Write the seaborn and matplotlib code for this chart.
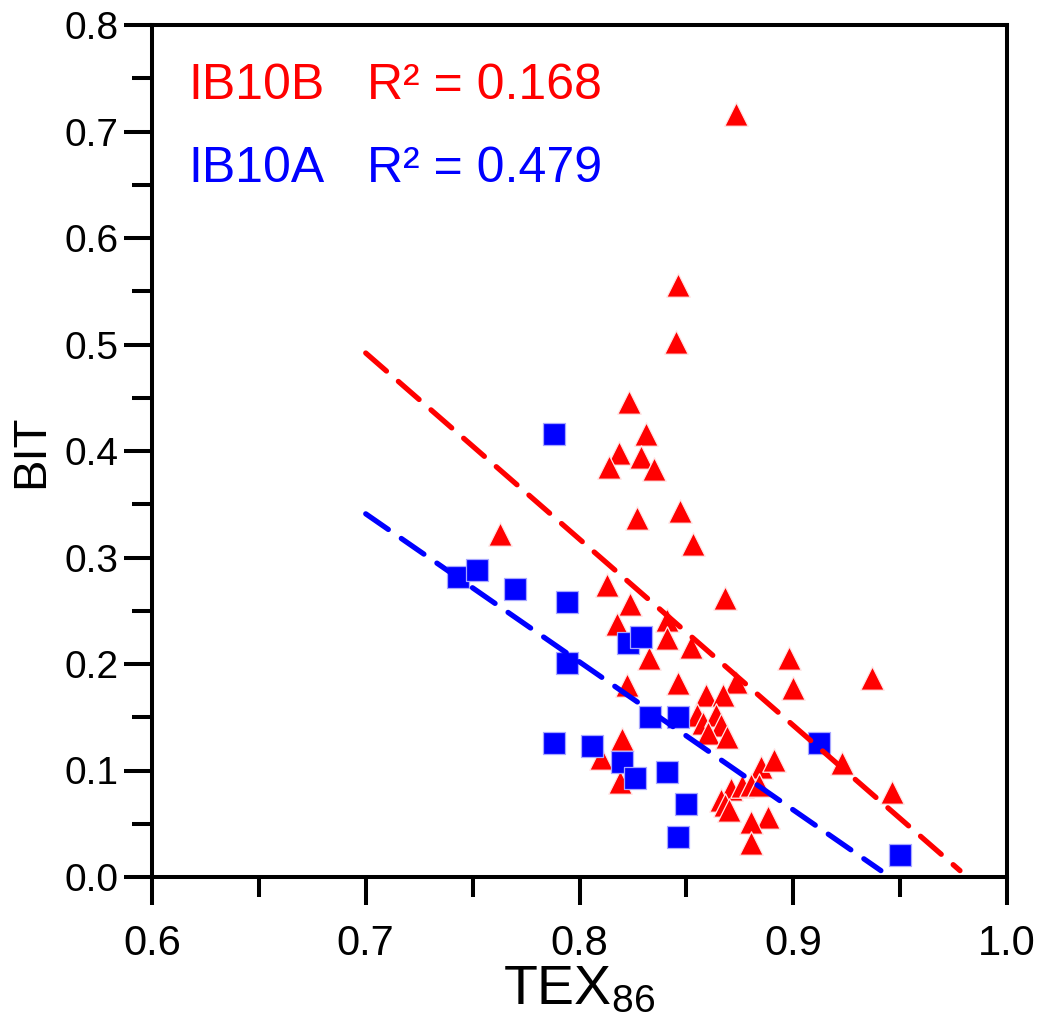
import numpy as np
import pandas as pd
import matplotlib
matplotlib.use("Agg")
import matplotlib.pyplot as plt
import seaborn as sns
from matplotlib import font_manager
from matplotlib.ticker import MultipleLocator, FixedLocator

# ---------------- data ----------------
ib10b_tex = [0.873, 0.846, 0.845, 0.823, 0.831, 0.8185, 0.829, 0.835, 0.814, 0.827,
             0.847, 0.853, 0.763, 0.813, 0.8236, 0.868, 0.8175, 0.841, 0.841, 0.8325,
             0.852, 0.846, 0.822, 0.873, 0.859, 0.867, 0.855, 0.858, 0.864, 0.866,
             0.860, 0.869, 0.820, 0.810, 0.819, 0.885, 0.891, 0.871, 0.876, 0.880,
             0.884, 0.866, 0.868, 0.870, 0.888, 0.880, 0.880, 0.898, 0.900, 0.937,
             0.923, 0.946]
ib10b_bit = [0.716, 0.556, 0.502, 0.446, 0.416, 0.398, 0.394, 0.383, 0.385, 0.337,
             0.344, 0.313, 0.322, 0.274, 0.256, 0.262, 0.238, 0.241, 0.224, 0.206,
             0.216, 0.182, 0.180, 0.183, 0.171, 0.171, 0.152, 0.145, 0.152, 0.143,
             0.135, 0.131, 0.130, 0.112, 0.089, 0.103, 0.110, 0.083, 0.085, 0.086,
             0.086, 0.072, 0.068, 0.063, 0.056, 0.052, 0.032, 0.206, 0.177, 0.187,
             0.107, 0.080]

ib10a_tex = [0.788, 0.743, 0.752, 0.770, 0.794, 0.794, 0.8227, 0.829, 0.833, 0.846,
             0.788, 0.806, 0.820, 0.826, 0.841, 0.850, 0.846, 0.912, 0.950]
ib10a_bit = [0.416, 0.282, 0.288, 0.270, 0.258, 0.201, 0.220, 0.225, 0.150, 0.150,
             0.126, 0.123, 0.108, 0.093, 0.099, 0.069, 0.038, 0.126, 0.021]

# regression line end points
fit_b_tex = [0.700, 0.978]
fit_b_bit = [0.492, 0.006]
fit_a_tex = [0.700, 0.941]
fit_a_bit = [0.341, 0.006]

labels = ["IB10B", "IB10A"]
r2_text = ["R\u00b2 = 0.168", "R\u00b2 = 0.479"]
x_ticks = [0.6, 0.7, 0.8, 0.9, 1.0]
x_ticklabels = ["0.6", "0.7", "0.8", "0.9", "1.0"]
y_ticks = [0.0, 0.1, 0.2, 0.3, 0.4, 0.5, 0.6, 0.7, 0.8]
y_ticklabels = ["0.0", "0.1", "0.2", "0.3", "0.4", "0.5", "0.6", "0.7", "0.8"]

RED = "#ff0000"
BLUE = "#0000ff"

# ---------------- style ----------------
sns.set_style("white")
plt.rcParams["font.family"] = ["Liberation Sans", "DejaVu Sans"]
plt.rcParams["text.color"] = "black"
plt.rcParams["axes.labelcolor"] = "black"
plt.rcParams["xtick.color"] = "black"
plt.rcParams["ytick.color"] = "black"
names = {f.name for f in font_manager.fontManager.ttflist}
narrow = "Liberation Sans Narrow" if "Liberation Sans Narrow" in names else "Liberation Sans"

fig = plt.figure(figsize=(10.39, 10.35), dpi=100)
ax = fig.add_axes([152 / 1039, 158 / 1035, 855 / 1039, 852 / 1035])

df_b = pd.DataFrame({"TEX86": ib10b_tex, "BIT": ib10b_bit})
df_a = pd.DataFrame({"TEX86": ib10a_tex, "BIT": ib10a_bit})

sns.scatterplot(data=df_b, x="TEX86", y="BIT", marker="^", s=285, color=RED,
                edgecolor="#ffe6e6", linewidth=0.9, ax=ax, zorder=2, legend=False)
sns.scatterplot(data=df_a, x="TEX86", y="BIT", marker="s", s=240, color=BLUE,
                edgecolor="#a8a8ff", linewidth=0.9, ax=ax, zorder=3, legend=False)

sns.lineplot(x=fit_a_tex, y=fit_a_bit, color=BLUE, lw=3.8, ax=ax, zorder=4,
             dashes=False, legend=False)
sns.lineplot(x=fit_b_tex, y=fit_b_bit, color=RED, lw=3.8, ax=ax, zorder=5,
             dashes=False, legend=False)
for ln in ax.get_lines():
    ln.set_linestyle((0, (5.2, 3.0)))
    ln.set_dash_capstyle("round")
    ln.set_solid_capstyle("round")

ax.set_xlim(0.6, 1.0)
ax.set_ylim(0.0, 0.8)

ax.xaxis.set_major_locator(FixedLocator(x_ticks))
ax.yaxis.set_major_locator(FixedLocator(y_ticks))
ax.xaxis.set_minor_locator(MultipleLocator(0.05))
ax.yaxis.set_minor_locator(MultipleLocator(0.05))
ax.set_xticklabels(x_ticklabels, fontfamily=narrow, fontsize=30, color="black")
ax.set_yticklabels(y_ticklabels, fontsize=28, color="black")

ax.tick_params(axis="both", which="major", direction="out", length=20, width=2.9,
               color="black", bottom=True, left=True, top=False, right=False)
ax.tick_params(axis="both", which="minor", direction="out", length=14.5, width=2.9,
               color="black", bottom=True, left=True, top=False, right=False)
ax.tick_params(axis="x", which="major", pad=14)
ax.tick_params(axis="y", which="major", pad=4)

for sp in ax.spines.values():
    sp.set_visible(True)
    sp.set_color("black")
    sp.set_linewidth(2.9)

ax.set_ylabel("BIT", fontsize=34, labelpad=8, color="black")
ax.set_xlabel(r"$\mathregular{TEX_{86}}$", fontsize=40, fontfamily=narrow,
              labelpad=0, color="black")

# annotations
ax.text(0.042, 0.913, labels[0], color=RED, fontsize=36, transform=ax.transAxes,
        ha="left", va="baseline")
ax.text(0.2515, 0.913, r2_text[0], color=RED, fontsize=36, transform=ax.transAxes,
        ha="left", va="baseline")
ax.text(0.042, 0.816, labels[1], color=BLUE, fontsize=36, transform=ax.transAxes,
        ha="left", va="baseline")
ax.text(0.2515, 0.816, r2_text[1], color=BLUE, fontsize=36, transform=ax.transAxes,
        ha="left", va="baseline")

fig.savefig("out.png", dpi=100, facecolor="white")
